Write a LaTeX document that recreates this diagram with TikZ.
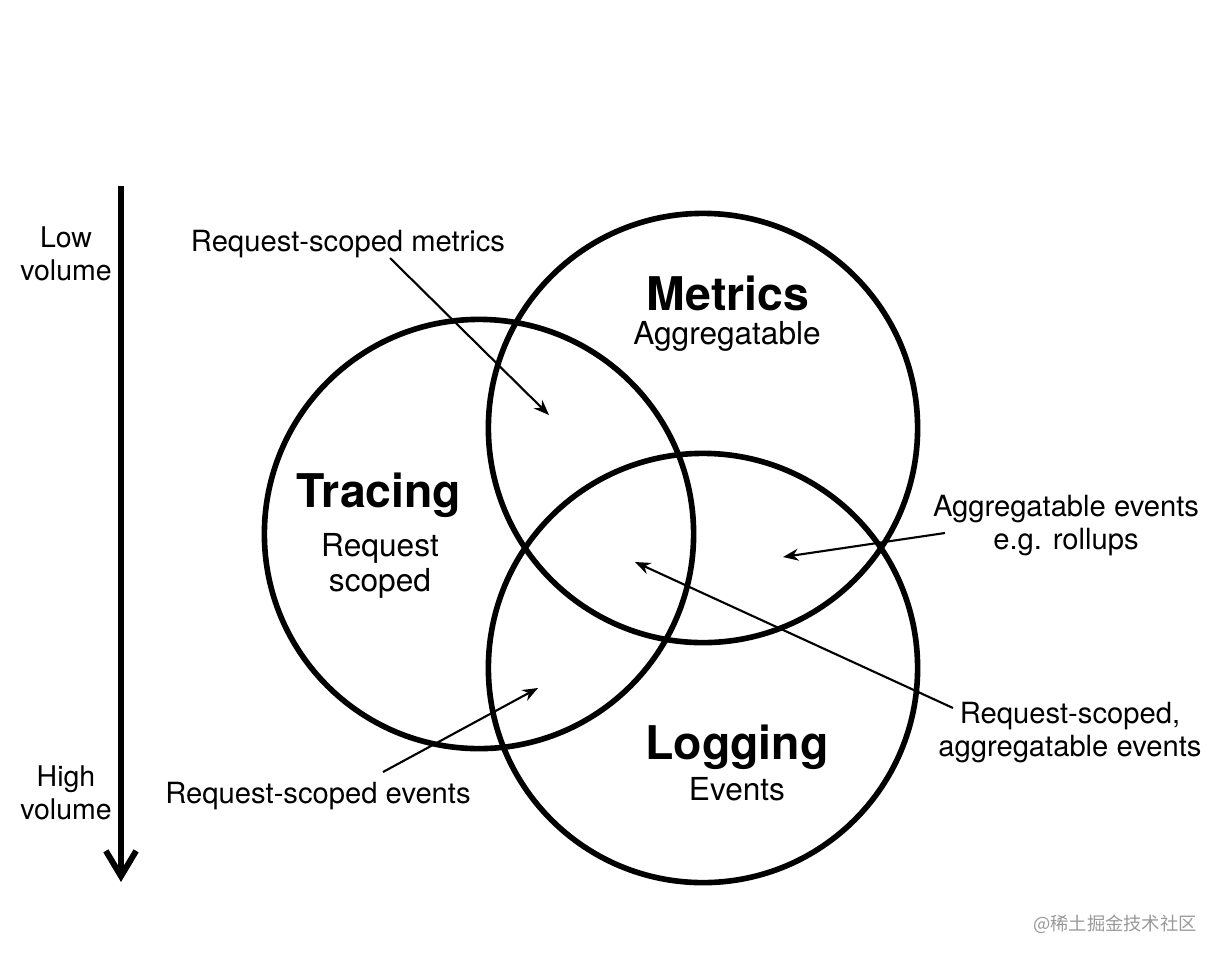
\documentclass[tikz,border=0pt]{standalone}
\usepackage{fontspec}
\setmainfont{TeX Gyre Heros}
\newfontfamily\cjkfont{Noto Sans CJK SC}
\usetikzlibrary{arrows.meta}

\begin{document}
\begin{tikzpicture}[x=0.01cm,y=-0.01cm,
  ring/.style={circle,draw,line width=1.6pt,minimum size=4.29cm,inner sep=0pt},
  pointer/.style={line width=0.6pt,-{Stealth[length=4.4pt,width=3.4pt]}},
  lbl/.style={font=\fontsize{8.3}{9.4}\selectfont,align=center,inner sep=0pt},
  title/.style={font=\fontsize{13.2}{14}\selectfont\bfseries,inner sep=0pt},
  sub/.style={font=\fontsize{9}{10}\selectfont,align=center,inner sep=0pt}]

\useasboundingbox (0,0) rectangle (1220,960);

% the three sets
\node[ring] (tracing) at (479,534) {};
\node[ring] (metrics) at (703,428) {};
\node[ring] (logging) at (703,668) {};

\node[title] (ttitle) at (379,495) {Tracing};
\node[sub]   (tsub)   at (380,566) {Request\\scoped};
\node[title] (mtitle) at (728,293) {Metrics};
\node[sub]   (msub)   at (727,336) {Aggregatable};
\node[title] (ltitle) at (737,747) {Logging};
\node[sub]   (lsub)   at (737,789) {Events};

% volume axis
\coordinate (axtop) at (121,186);
\coordinate (axbot) at (121,882);
\draw[line width=1.7pt,-{Straight Barb[length=7.2pt,width=8.6pt]}] (axtop) -- (axbot);
\node[lbl,font=\fontsize{8.1}{9.4}\selectfont] (low)  at (66,254) {Low\\volume};
\node[lbl,font=\fontsize{8.1}{9.4}\selectfont] (high) at (66,793) {High\\volume};

% overlap labels
\node[lbl] (rsm) at (348,244) {Request-scoped metrics};
\node[lbl] (agg) at (1066,526) {Aggregatable events\\e.g. rollups};
\node[lbl] (rsa) at (1070,733) {Request-scoped,\\aggregatable events};
\node[lbl] (rse) at (318,796) {Request-scoped events};

\coordinate (rsmtail) at (390,258);
\coordinate (rsmtip)  at (549,415);
\coordinate (aggtail) at (945,533);
\coordinate (aggtip)  at (783,557);
\coordinate (rsatail) at (953,708);
\coordinate (rsatip)  at (635,562);
\coordinate (rsetail) at (383,772);
\coordinate (rsetip)  at (538,688);

\draw[pointer] (rsmtail) -- (rsmtip);
\draw[pointer] (aggtail) -- (aggtip);
\draw[pointer] (rsatail) -- (rsatip);
\draw[pointer] (rsetail) -- (rsetip);

\node[inner sep=0pt,text=black!40,font=\cjkfont\fontsize{5.2}{6}\selectfont] (mark) at (1115,924) {@稀土掘金技术社区};
\end{tikzpicture}
\end{document}
